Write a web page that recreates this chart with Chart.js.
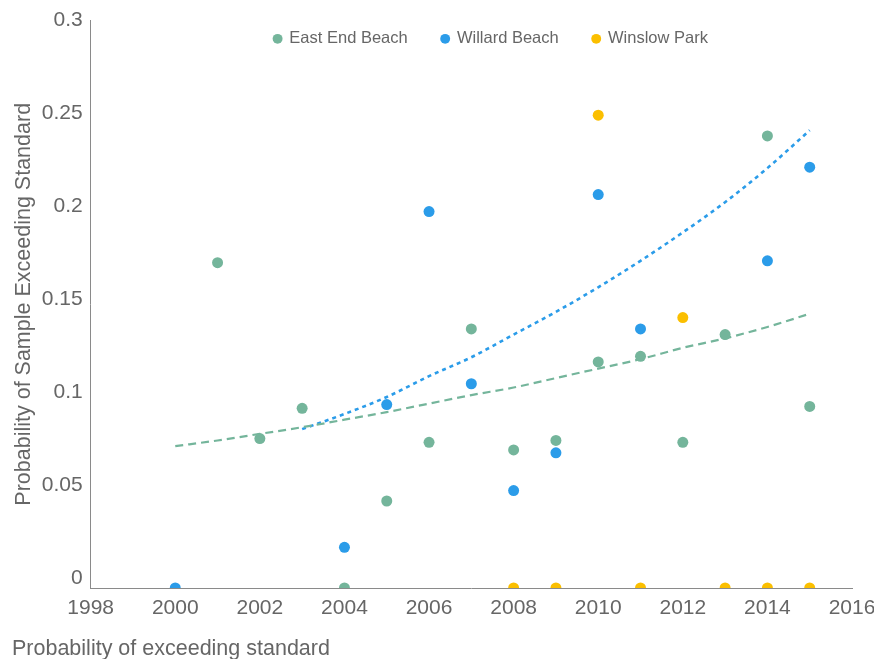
<!DOCTYPE html>
<html>
<head>
<meta charset="utf-8">
<script src="https://cdn.jsdelivr.net/npm/chart.js@4/dist/chart.umd.min.js"></script>
<style>
  html, body { margin: 0; padding: 0; background: #ffffff; }
  #wrap { width: 874px; height: 659px; }
</style>
</head>
<body>
<div id="wrap"><canvas id="chart"></canvas></div>
<script>
// Yearly probability that a sample exceeds the bacteria standard, per beach
const eastEndYears  = [2001, 2002, 2003, 2004, 2005, 2006, 2007, 2008, 2009, 2010, 2011, 2012, 2013, 2014, 2015];
const eastEndValues = [0.172, 0.079, 0.095, 0, 0.046, 0.077, 0.137, 0.073, 0.078, 0.1195, 0.1225, 0.077, 0.134, 0.239, 0.096];

const willardYears  = [2000, 2004, 2005, 2006, 2007, 2008, 2009, 2010, 2011, 2014, 2015];
const willardValues = [0, 0.0215, 0.097, 0.199, 0.108, 0.0515, 0.0715, 0.208, 0.137, 0.173, 0.2225];

const winslowYears  = [2008, 2009, 2010, 2011, 2012, 2013, 2014, 2015];
const winslowValues = [0, 0, 0.25, 0, 0.143, 0, 0, 0];

// Exponential trend lines
const eastEndTrendYears  = [2000, 2001, 2002, 2003, 2004, 2005, 2006, 2007, 2008, 2009, 2010, 2011, 2012, 2013, 2014, 2015];
const eastEndTrendValues = [0.075, 0.078, 0.0815, 0.085, 0.089, 0.093, 0.0975, 0.102, 0.106, 0.111, 0.116, 0.121, 0.127, 0.132, 0.138, 0.145];

const willardTrendYears  = [2003, 2004, 2005, 2006, 2007, 2008, 2009, 2010, 2011, 2012, 2013, 2014, 2015];
const willardTrendValues = [0.084, 0.092, 0.101, 0.112, 0.122, 0.134, 0.146, 0.159, 0.173, 0.188, 0.204, 0.222, 0.242];

const seriesNames = ['East End Beach', 'Willard Beach', 'Winslow Park'];
const xTickValues = [1998, 2000, 2002, 2004, 2006, 2008, 2010, 2012, 2014, 2016];
const yTickValues = [0, 0.05, 0.1, 0.15, 0.2, 0.25, 0.3];

const GREEN = '#74b59b';
const BLUE = '#2b9ce9';
const YELLOW = '#fbbf00';
const TEXT = '#666666';
const AXIS = '#8a8a8a';
const FONT = "'Liberation Sans', Arial, Helvetica, sans-serif";

const pts = (xs, ys) => xs.map((x, i) => ({ x: x, y: ys[i] }));

// Places the legend row over the right part of the plot and lets it
// overlap the plot area without being clipped to its reserved strip
const legendPlacement = {
  id: 'legendPlacement',
  afterLayout(chart) {
    const lg = chart.legend;
    if (lg) {
      lg.left += 48;
      lg.right += 48;
      lg.bottom = lg.top + 70;
    }
  }
};

const pointStyle = (color) => ({
  backgroundColor: color,
  borderColor: color,
  pointRadius: 5.5,
  pointHoverRadius: 5.5,
  pointBorderWidth: 0,
  order: 0
});

new Chart(document.getElementById('chart'), {
  type: 'scatter',
  data: {
    datasets: [
      Object.assign({ label: seriesNames[0], data: pts(eastEndYears, eastEndValues) }, pointStyle(GREEN)),
      Object.assign({ label: seriesNames[1], data: pts(willardYears, willardValues) }, pointStyle(BLUE)),
      Object.assign({ label: seriesNames[2], data: pts(winslowYears, winslowValues) }, pointStyle(YELLOW)),
      {
        label: 'East End trend',
        data: pts(eastEndTrendYears, eastEndTrendValues),
        showLine: true,
        borderColor: GREEN,
        backgroundColor: GREEN,
        borderWidth: 2.2,
        borderDash: [8, 5],
        pointRadius: 0,
        cubicInterpolationMode: 'monotone',
        order: 1
      },
      {
        label: 'Willard trend',
        data: pts(willardTrendYears, willardTrendValues),
        showLine: true,
        borderColor: BLUE,
        backgroundColor: BLUE,
        borderWidth: 2.6,
        borderDash: [4, 4],
        pointRadius: 0,
        cubicInterpolationMode: 'monotone',
        order: 1
      }
    ]
  },
  options: {
    responsive: true,
    maintainAspectRatio: false,
    animation: false,
    layout: { padding: { left: 12, top: -6, right: 0, bottom: 0 } },
    scales: {
      x: {
        type: 'linear',
        position: 'bottom',
        min: 1998,
        max: 2016,
        afterBuildTicks: (scale) => { scale.ticks = xTickValues.map(v => ({ value: v })); },
        afterFit: (scale) => { scale.paddingRight = 22; },
        ticks: {
          padding: 8,
          color: TEXT,
          font: { family: FONT, size: 21 },
          callback: (v) => String(v)
        },
        grid: { display: false, drawTicks: false },
        border: { display: true, color: AXIS, width: 1 }
      },
      // data axis: 0 sits on the bottom axis line
      y: {
        type: 'linear',
        position: 'left',
        display: false,
        min: 0,
        max: 0.3
      },
      // label axis: carries the visible tick labels, axis line and title
      yl: {
        type: 'linear',
        position: 'left',
        min: -0.00536,
        max: 0.3,
        afterBuildTicks: (scale) => { scale.ticks = yTickValues.map(v => ({ value: v })); },
        ticks: {
          padding: 8,
          color: TEXT,
          font: { family: FONT, size: 21 },
          callback: (v) => String(Math.round(v * 100) / 100)
        },
        grid: { display: false, drawTicks: false },
        border: { display: true, color: AXIS, width: 1 },
        title: {
          display: true,
          text: 'Probability of Sample Exceeding Standard',
          color: TEXT,
          font: { family: FONT, size: 21.5 },
          padding: { top: -1, bottom: -3 }
        }
      }
    },
    plugins: {
      legend: {
        display: true,
        position: 'top',
        align: 'center',
        maxHeight: 24,
        labels: {
          usePointStyle: true,
          pointStyle: 'circle',
          boxWidth: 7,
          boxHeight: 7,
          padding: 34,
          color: TEXT,
          font: { family: FONT, size: 16.5 },
          filter: (item) => item.datasetIndex < 3
        }
      },
      title: {
        display: true,
        position: 'bottom',
        align: 'start',
        text: 'Probability of exceeding standard',
        color: TEXT,
        font: { family: FONT, size: 21.5, weight: 'normal' },
        padding: { top: 7, bottom: -3 }
      },
      tooltip: { enabled: false }
    }
  },
  plugins: [legendPlacement]
});
</script>
</body>
</html>
